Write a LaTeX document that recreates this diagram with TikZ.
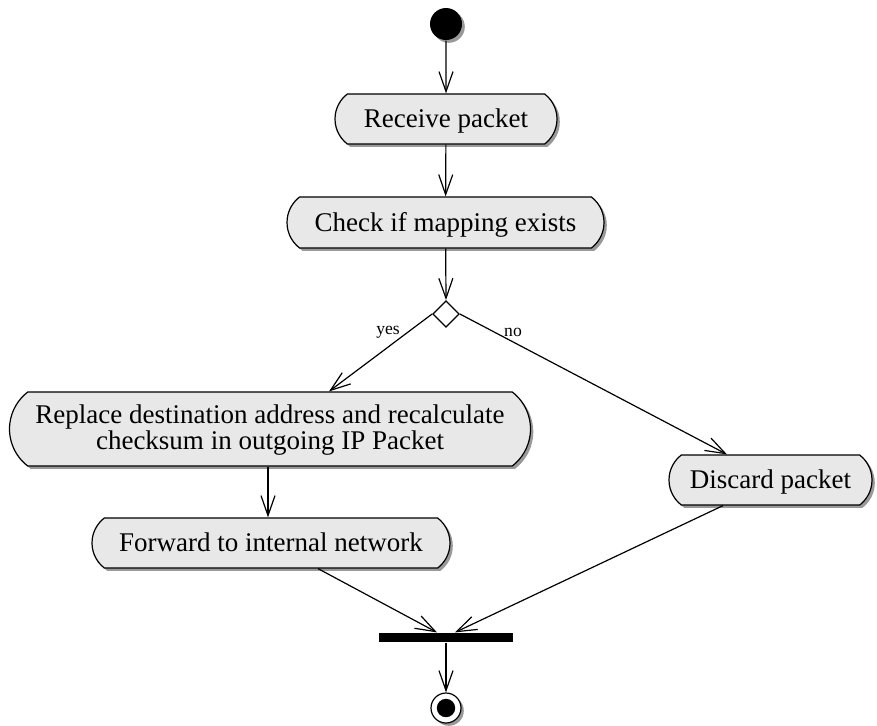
\documentclass[tikz,border=0pt]{standalone}
\usepackage{fontspec}
\setmainfont{Liberation Serif}
\usetikzlibrary{shapes.misc,shapes.geometric,shadows,arrows.meta}
\begin{document}
\begin{tikzpicture}[x=0.5pt,y=-0.5pt,
  line width=0.6pt,
  shade/.style={drop shadow={shadow xshift=1.4pt,shadow yshift=-1.4pt,fill=black,opacity=0.4}},
  activity/.style={rounded rectangle, rounded rectangle arc length=105,
    draw=black, fill=black!9, shade, inner sep=0pt, align=center,
    font=\fontsize{13.5}{11.7}\selectfont, text height=8.8pt, text depth=0pt},
  decision/.style={diamond, draw=black, fill=white, minimum width=13.3pt,
    minimum height=13.3pt, inner sep=0pt},
  initial/.style={circle, fill=black, minimum size=16pt, inner sep=0pt, shade},
  final/.style={circle, draw=black, fill=white, minimum size=15pt, inner sep=0pt, shade},
  joinbar/.style={rectangle, fill=black, minimum width=67pt, minimum height=4.5pt, inner sep=0pt},
  flow/.style={-{Straight Barb[length=10pt,width=7pt,line width=0.6pt]}},
  guard/.style={font=\fontsize{8.8}{10}\selectfont, inner sep=0pt}
]
\useasboundingbox (0,0) rectangle (877,725);

% activity states
\node[initial] (start) at (446,24) {};
\node[activity, minimum width=111pt, minimum height=25pt] (recv) at (446,119) {Receive packet};
\node[activity, minimum width=158.5pt, minimum height=25.5pt] (check) at (445.5,222.5) {Check if mapping exists};
\node[decision] (dec) at (446,314) {};
\node[activity, minimum width=260.5pt, minimum height=37pt, text height=20.5pt] (repl) at (270,429)
  {Replace destination address and recalculate\\checksum in outgoing IP Packet};
\node[activity, minimum width=179pt, minimum height=25pt] (fwd) at (271,543) {Forward to internal network};
\node[activity, minimum width=101.5pt, minimum height=25pt] (disc) at (770.5,480) {Discard packet};
\node[joinbar] (join) at (446,637.5) {};
\node[final] (stop) at (446,708) {};
\fill (stop.center) circle (4.6pt);

% guards
\node[guard] (yes) at (388,332) {yes};
\node[guard] (no) at (513,332) {no};

% transitions
\draw[flow] (start) -- (recv);
\draw[flow] (recv) -- (check);
\draw[flow] (check) -- (dec.north);
\draw[flow] (dec.west) -- ([xshift=29.5pt]repl.north);
\draw[flow] (dec.east) -- ([xshift=-21.75pt]disc.north);
\draw[flow] ([xshift=-1pt]repl.south) -- ([xshift=-1pt]repl.south |- fwd.north);
\draw[flow] ([xshift=23.5pt]fwd.south) -- ([xshift=-4.5pt]join.north);
\draw[flow] ([xshift=-23.75pt]disc.south) -- ([xshift=4.5pt]join.north);
\draw[flow] (join) -- (stop);
\end{tikzpicture}
\end{document}
